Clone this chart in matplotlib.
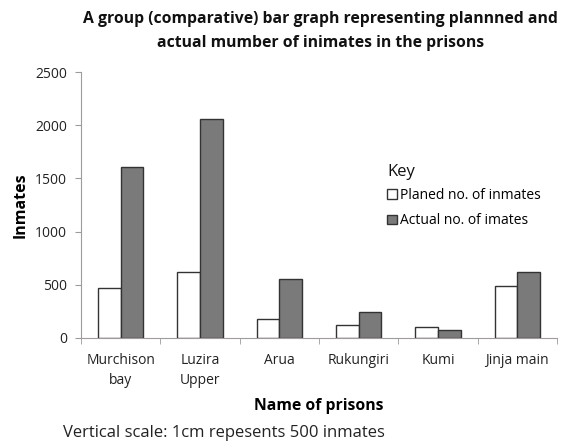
import matplotlib.pyplot as plt
import numpy as np

plt.rcParams['font.family'] = ['Open Sans', 'DejaVu Sans']

prisons = ['Murchison\nbay', 'Luzira\nUpper', 'Arua', 'Rukungiri', 'Kumi', 'Jinja main']
planned = [473, 623, 178, 122, 103, 492]
actual = [1612, 2056, 554, 247, 78, 623]

fig = plt.figure(figsize=(5.63, 4.42), dpi=100)
ax = fig.add_axes([0.1439, 0.2353, 0.8454, 0.6017])

x = np.arange(len(prisons))
w = 0.286
ax.bar(x - w / 2, planned, w, color='white', edgecolor='#333333', linewidth=1,
       label='Planed no. of inmates')
ax.bar(x + w / 2, actual, w, color='#7a7a7a', edgecolor='#333333', linewidth=1,
       label='Actual no. of imates')

ax.set_xlim(-0.5, len(prisons) - 0.5)
ax.set_ylim(0, 2500)
ax.set_yticks(range(0, 2501, 500))
ax.set_xticks(x)
ax.set_xticklabels(prisons, fontsize=10, color='#222222', linespacing=1.4)
ax.set_xticks(np.arange(-0.5, len(prisons)), minor=True)
ax.tick_params(axis='x', which='major', length=0, pad=11)
ax.tick_params(axis='x', which='minor', length=4, color='#a09a9a')
ax.tick_params(axis='y', length=4, color='#a09a9a', labelsize=10, labelcolor='#222222', pad=6)

for s in ['top', 'right']:
    ax.spines[s].set_visible(False)
for s in ['left', 'bottom']:
    ax.spines[s].set_color('#a09a9a')

ax.set_ylabel('Inmates', fontsize=11.5, fontweight='bold', labelpad=5)
ax.set_xlabel('Name of prisons', fontsize=11.3, fontweight='bold')
ax.xaxis.set_label_coords(0.5, -0.225)

fig.text(0.570, 0.975, 'A group (comparative) bar graph representing plannned and\n'
         'actual mumber of inimates in the prisons',
         ha='center', va='top', fontsize=11.3, fontweight='bold', linespacing=1.7,
         color='#111111')

# key
ax.text(0.643, 0.624, 'Key', transform=ax.transAxes, fontsize=12, va='center',
        color='#111111')
leg = ax.legend(loc='upper left', bbox_to_anchor=(0.629, 0.590), frameon=False,
                fontsize=10, handlelength=0.7, handleheight=0.7,
                handletextpad=0.2, labelspacing=0.75, borderpad=0)

fig.text(0.112, 0.020, 'Vertical scale: 1cm repesents 500 inmates', fontsize=12,
         color='#222222', va='center')

fig.savefig('out.png', dpi=100)
